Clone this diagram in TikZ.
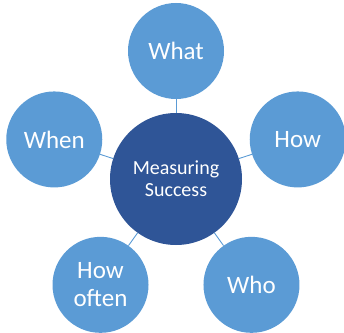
\documentclass[tikz,border=0pt]{standalone}
\usepackage{fontspec}
\setmainfont{Carlito}
\definecolor{topicblue}{HTML}{5B9BD5}
\definecolor{hubblue}{HTML}{2F5597}

\begin{document}
\begin{tikzpicture}[x=1pt,y=1pt,
    topic/.style={circle, fill=topicblue, text=white, minimum size=96pt, inner sep=0pt, align=center, font=\fontsize{25}{28}\selectfont},
    hub/.style={circle, fill=hubblue, text=white, minimum size=132pt, inner sep=0pt, align=center, font=\fontsize{20}{22}\selectfont},
    spoke/.style={draw=topicblue, line width=0.9pt}]
    \useasboundingbox (-176,-153) rectangle (168,179);
    \node [hub] (ms) at (0,0) {Measuring\\Success};
    \node [topic] (what) at (90:128) {What};
    \node [topic] (how) at (18:128) {How};
    \node [topic] (who) at (-54.5:130) {Who};
    \node [topic] (often) at (-125.5:130) {How\\often};
    \node [topic] (when) at (162:128) {When};
    \draw [spoke] (ms) -- (what);
    \draw [spoke] (ms) -- (how);
    \draw [spoke] (ms) -- (who);
    \draw [spoke] (ms) -- (often);
    \draw [spoke] (ms) -- (when);
\end{tikzpicture}
\end{document}
